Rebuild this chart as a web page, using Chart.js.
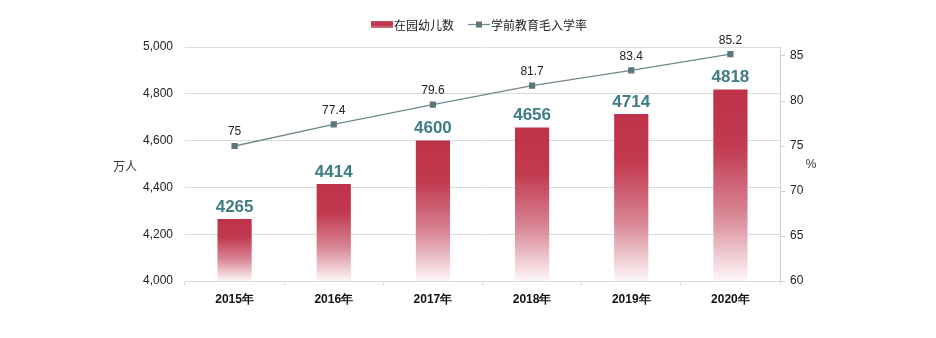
<!DOCTYPE html>
<html>
<head>
<meta charset="utf-8">
<script src="https://cdn.jsdelivr.net/npm/chart.js@4.4.1/dist/chart.umd.min.js"></script>
<style>
  html, body { margin: 0; padding: 0; background: #fff; }
  #wrap { width: 936px; height: 338px; }
</style>
</head>
<body>
<div id="wrap"><canvas id="kids"></canvas></div>
<script>
// Categories and series
const years = ['2015年', '2016年', '2017年', '2018年', '2019年', '2020年'];
const enrolled = [4265, 4414, 4600, 4656, 4714, 4818];      // 在园幼儿数（万人）
const grossRate = [75, 77.4, 79.6, 81.7, 83.4, 85.2];       // 学前教育毛入学率（%）
const leftTicks = [4000, 4200, 4400, 4600, 4800, 5000];
const rightTicks = [60, 65, 70, 75, 80, 85];

const RED = 'rgb(190,50,73)';
const LINE = '#71888e';
const MARK = '#5d767c';
const TEAL = '#3f7c84';
const NUM_FONT = '"Liberation Sans", Arial, sans-serif';
const CJK_FONT = '"Noto Sans CJK SC", "Liberation Sans", sans-serif';

function barGradient(ctx, top, bottom) {
    const g = ctx.createLinearGradient(0, top, 0, bottom);
    g.addColorStop(0, 'rgb(190,50,73)');
    g.addColorStop(0.3, 'rgb(194,58,80)');
    g.addColorStop(0.65, 'rgb(216,134,149)');
    g.addColorStop(1, 'rgb(253,247,248)');
    return g;
}

// small legend swatches
function swatch(kind) {
    const c = document.createElement('canvas');
    c.width = 22; c.height = 9;
    const x = c.getContext('2d');
    if (kind === 'bar') {
        const g = x.createLinearGradient(0, 0, 0, 9);
        g.addColorStop(0, 'rgb(200,80,100)');
        g.addColorStop(0.5, RED);
        g.addColorStop(1, 'rgb(220,140,155)');
        x.fillStyle = g;
        x.fillRect(0, 1, 22, 7);
    } else {
        x.strokeStyle = LINE;
        x.lineWidth = 1.2;
        x.beginPath(); x.moveTo(0, 4.5); x.lineTo(22, 4.5); x.stroke();
        x.fillStyle = MARK;
        x.fillRect(8, 1.5, 6, 6);
    }
    return c;
}

// value labels, unit labels
const labelPlugin = {
    id: 'labelPlugin',
    afterDatasetsDraw(chart) {
        const ctx = chart.ctx;
        ctx.save();
        ctx.textAlign = 'center';
        ctx.textBaseline = 'middle';
        chart.getDatasetMeta(1).data.forEach((bar, i) => {
            ctx.fillStyle = TEAL;
            ctx.font = 'bold 17px ' + NUM_FONT;
            ctx.fillText(String(enrolled[i]), bar.x, bar.y - 12);
        });
        chart.getDatasetMeta(0).data.forEach((pt, i) => {
            ctx.fillStyle = '#222';
            ctx.font = '12px ' + NUM_FONT;
            ctx.fillText(String(grossRate[i]), pt.x, pt.y - 14);
        });
        ctx.font = '12px ' + CJK_FONT;
        ctx.fillStyle = '#333';
        ctx.fillText('万人', 125, 166);
        ctx.font = '12px ' + NUM_FONT;
        ctx.fillText('%', 811, 165);
        ctx.restore();
    }
};

const chart = new Chart(document.getElementById('kids'), {
    data: {
        labels: years,
        datasets: [
            {
                type: 'line',
                label: '学前教育毛入学率',
                data: grossRate,
                yAxisID: 'y1',
                borderColor: LINE,
                borderWidth: 1.3,
                pointStyle: 'rect',
                pointRadius: 3.5,
                pointBackgroundColor: MARK,
                pointBorderColor: MARK,
                order: 0
            },
            {
                type: 'bar',
                label: '在园幼儿数',
                data: enrolled,
                yAxisID: 'y',
                categoryPercentage: 1,
                barPercentage: 0.345,
                backgroundColor: (c) => {
                    const ch = c.chart;
                    if (!ch.chartArea || c.dataIndex === undefined) return RED;
                    const top = ch.scales.y.getPixelForValue(enrolled[c.dataIndex]);
                    return barGradient(ch.ctx, top, ch.chartArea.bottom);
                },
                order: 1
            }
        ]
    },
    options: {
        responsive: true,
        maintainAspectRatio: false,
        animation: false,
        layout: { padding: { top: 47, left: 0, right: 0, bottom: 0 } },
        plugins: {
            legend: { display: false },
            tooltip: { enabled: false }
        },
        scales: {
            x: {
                offset: true,
                grid: { display: true, drawOnChartArea: false, tickLength: 4, color: '#d9d9d9', offset: true },
                border: { color: '#d9d9d9' },
                ticks: {
                    color: '#111',
                    padding: 7,
                    font: { family: NUM_FONT, size: 12, weight: 'bold' }
                },
                afterFit: (s) => { s.height = 57; }
            },
            y: {
                position: 'left',
                min: 4000,
                max: 5000,
                afterBuildTicks: (s) => { s.ticks = leftTicks.map(v => ({ value: v })); },
                grid: { color: '#dcdcdc', drawTicks: false },
                border: { display: false },
                ticks: {
                    color: '#222',
                    padding: 12,
                    font: { family: NUM_FONT, size: 12 },
                    callback: (v) => v.toLocaleString('en-US')
                },
                afterFit: (s) => { s.width = 185; }
            },
            y1: {
                position: 'right',
                min: 60,
                max: 86,
                afterBuildTicks: (s) => { s.ticks = rightTicks.map(v => ({ value: v })); },
                grid: { drawOnChartArea: false, tickLength: 5, color: '#d0d0d0' },
                border: { display: true, color: '#d0d0d0' },
                ticks: {
                    color: '#222',
                    padding: 5,
                    font: { family: NUM_FONT, size: 12 }
                },
                afterFit: (s) => { s.width = 156; }
            }
        }
    },
    plugins: [labelPlugin, {
        id: 'topLegend',
        afterDraw(chart) {
            const ctx = chart.ctx;
            ctx.save();
            ctx.font = '12px ' + CJK_FONT;
            ctx.fillStyle = '#222';
            ctx.textBaseline = 'middle';
            ctx.drawImage(swatch('bar'), 371, 20);
            ctx.fillText('在园幼儿数', 394, 25);
            ctx.drawImage(swatch('line'), 468, 20);
            ctx.fillText('学前教育毛入学率', 491, 25);
            ctx.restore();
        }
    }]
});
</script>
</body>
</html>
